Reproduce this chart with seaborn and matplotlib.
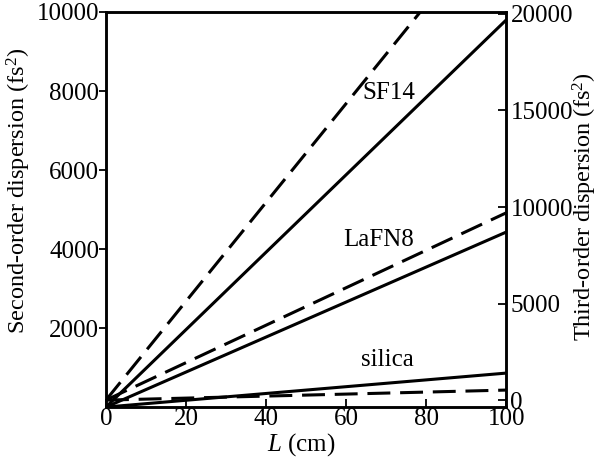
import matplotlib
matplotlib.use("Agg")
import matplotlib.pyplot as plt
import seaborn as sns
import numpy as np

sns.set_theme(style="ticks")
plt.rcParams['font.serif'] = ['Liberation Serif', 'DejaVu Serif']
plt.rcParams['font.family'] = ['Liberation Serif', 'DejaVu Serif']
plt.rcParams['mathtext.fontset'] = 'custom'
plt.rcParams['mathtext.rm'] = 'Liberation Serif'
plt.rcParams['mathtext.it'] = 'Liberation Serif:italic'
plt.rcParams['text.color'] = 'black'
plt.rcParams['axes.labelcolor'] = 'black'
plt.rcParams['xtick.color'] = 'black'
plt.rcParams['ytick.color'] = 'black'

# Data
L = [0, 100]
materials = ["silica", "LaFN8", "SF14"]
gdd = {"silica": [0, 860], "LaFN8": [0, 4430], "SF14": [0, 9800]}      # fs^2, left axis (solid)
tod = {"silica": [0, 520], "LaFN8": [0, 9700], "SF14": [0, 25600]}     # right axis (dashed)
label_pos = {"SF14": (70.7, 7950), "LaFN8": (68.2, 4230), "silica": (70.2, 1190)}
left_ticks = [2000, 4000, 6000, 8000, 10000]
right_ticks = [0, 5000, 10000, 15000, 20000]
x_ticks = [0, 20, 40, 60, 80, 100]

SERIF = ['Liberation Serif', 'DejaVu Serif']

fig = plt.figure(figsize=(6.02, 4.61), dpi=100)
ax = fig.add_axes([0.176, 0.117, 0.665, 0.857])
ax2 = ax.twinx()

for m in materials:
    sns.lineplot(x=L, y=gdd[m], ax=ax, color="black", linewidth=2.2)
    sns.lineplot(x=L, y=tod[m], ax=ax2, color="black", linewidth=2.2)
for line in ax2.lines:
    line.set_dashes([7.5, 3.2])

ax.set_xlim(0, 100)
ax.set_ylim(0, 10000)
ax2.set_ylim(-360, 20100)

ax.set_xticks(x_ticks)
ax.set_yticks(left_ticks)
ax2.set_yticks(right_ticks)
ax.tick_params(axis='x', direction='in', length=6, width=1.3, labelsize=18, pad=1)
ax.tick_params(axis='y', direction='out', length=5, width=1.3, labelsize=18, pad=0)
ax2.tick_params(axis='y', direction='in', length=6, width=1.3, labelsize=18, pad=3)
for a in (ax, ax2):
    for s in a.spines.values():
        s.set_linewidth(1.8)
        s.set_color("black")
    for t in a.get_xticklabels() + a.get_yticklabels():
        t.set_fontfamily(SERIF)

for m, (x, y) in label_pos.items():
    ax.text(x, y, m, fontsize=18, ha='center', va='center', family=SERIF)

ax.set_xlabel("")
ax.set_ylabel("")
ax2.set_ylabel("")
fig.text(0.50, 0.035, "$L$ (cm)", fontsize=18, ha='center', va='center', family=SERIF)
fig.text(0.032, 0.585, "Second-order dispersion (fs$^2$)", fontsize=17.5,
         rotation=90, ha='center', va='center', family=SERIF)
fig.text(0.972, 0.552, "Third-order dispersion (fs$^2$)", fontsize=17.5,
         rotation=90, ha='center', va='center', family=SERIF)

fig.savefig("out.png", dpi=100)
